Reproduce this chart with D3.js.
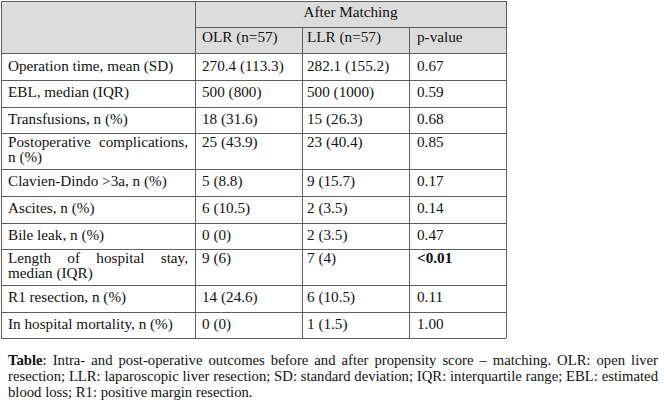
<!DOCTYPE html>
<html>
<head>
<meta charset="utf-8">
<script src="https://cdn.jsdelivr.net/npm/d3@7"></script>
<style>
  html, body { margin: 0; padding: 0; background: #fff; }
  svg { display: block; }
  text { font-family: 'Liberation Serif', 'Times New Roman', serif; fill: #111; }
</style>
</head>
<body>
<svg width="664" height="403"></svg>
<script>
// table contents
const groupHeader = 'After Matching';
const columns = ['OLR (n=57)', 'LLR (n=57)', 'p-value'];
const outcomes = [
  'Operation time, mean (SD)',
  'EBL, median (IQR)',
  'Transfusions, n (%)',
  'Postoperative complications, n (%)',
  'Clavien-Dindo >3a, n (%)',
  'Ascites, n (%)',
  'Bile leak, n (%)',
  'Length of hospital stay, median (IQR)',
  'R1 resection, n (%)',
  'In hospital mortality, n (%)'
];
const olr = ['270.4 (113.3)', '500 (800)', '18 (31.6)', '25 (43.9)', '5 (8.8)',
  '6 (10.5)', '0 (0)', '9 (6)', '14 (24.6)', '0 (0)'];
const llr = ['282.1 (155.2)', '500 (1000)', '15 (26.3)', '23 (40.4)', '9 (15.7)',
  '2 (3.5)', '2 (3.5)', '7 (4)', '6 (10.5)', '1 (1.5)'];
const pValues = ['0.67', '0.59', '0.68', '0.85', '0.17', '0.14', '0.47', '<0.01', '0.11', '1.00'];
const significant = [false, false, false, false, false, false, false, true, false, false];
const captionLead = 'Table';
const captionText = ': Intra- and post-operative outcomes before and after propensity score \u2013 matching. OLR: open liver resection; LLR: laparoscopic liver resection; SD: standard deviation; IQR: interquartile range; EBL: estimated blood loss; R1: positive margin resection.';

const svg = d3.select('svg');
const fontSize = 15.2;
const capSize = 14.7;

// column edges
const colEdges = [1, 195, 302, 409, 506];
const pad = [7, 7, 5, 8];
const x = d3.scaleOrdinal().domain(['label', 'olr', 'llr', 'p']).range(colEdges.slice(0, 4));

// measuring helper
const probe = svg.append('text').attr('x', -1000).attr('y', -1000);
function measure(str, bold, size) {
  probe.text(str).attr('font-weight', bold ? 'bold' : 'normal').attr('font-size', size);
  return probe.node().getComputedTextLength();
}
function spaceWidth(size) {
  return measure('a a', false, size) - measure('aa', false, size);
}

// split words into lines that fit maxW
function wrap(words, maxW, size) {
  const sp = spaceWidth(size);
  const lines = [];
  let cur = [];
  let w = 0;
  words.forEach(word => {
    const ww = word.parts.reduce((s, p) => s + measure(p.t, p.bold, size), 0);
    word.w = ww;
    if (cur.length && w + sp + ww > maxW) {
      lines.push(cur);
      cur = [];
      w = 0;
    }
    w += (cur.length ? sp : 0) + ww;
    cur.push(word);
  });
  if (cur.length) lines.push(cur);
  return { lines, sp };
}

function drawJustified(g, words, x0, maxW, y0, lineH, size) {
  const res = wrap(words, maxW, size);
  res.lines.forEach((line, i) => {
    const last = i === res.lines.length - 1;
    const total = d3.sum(line, d => d.w);
    const gap = !last && line.length > 1 ? (maxW - total) / (line.length - 1) : res.sp;
    let cx = x0;
    line.forEach(word => {
      const t = g.append('text').attr('x', cx).attr('y', y0 + i * lineH).attr('font-size', size);
      word.parts.forEach(p => {
        t.append('tspan').attr('font-weight', p.bold ? 'bold' : 'normal').text(p.t);
      });
      cx += word.w + gap;
    });
  });
  return res.lines.length;
}

const toWords = str => str.split(' ').map(t => ({ parts: [{ t, bold: false }] }));

// row heights depend on how many lines the label needs
const labelWidth = 188 - 8;
const rowLines = outcomes.map(o => wrap(toWords(o), labelWidth, fontSize).lines.length);
const headH = [26, 26];
const rowH = rowLines.map(n => (n > 1 ? 35.5 : 26.8));
const tableTop = 1;
const rowTops = [];
let acc = tableTop + headH[0] + headH[1];
rowH.forEach(h => { rowTops.push(acc); acc += h; });
const tableBottom = acc;

// header background
svg.append('rect')
  .attr('x', colEdges[0]).attr('y', tableTop)
  .attr('width', colEdges[4] - colEdges[0]).attr('height', headH[0] + headH[1])
  .attr('fill', '#dcdcdc');

const grid = svg.append('g').attr('stroke', '#5e5e5e').attr('stroke-width', 1).attr('shape-rendering', 'crispEdges');
// horizontal lines
const hLines = [tableTop, tableTop + headH[0], tableTop + headH[0] + headH[1]].concat(rowTops.slice(1), [tableBottom]);
grid.selectAll('line.h').data(hLines).enter().append('line')
  .attr('class', 'h')
  .attr('x1', (d, i) => (i === 1 ? colEdges[1] : colEdges[0]))
  .attr('x2', colEdges[4])
  .attr('y1', d => Math.round(d) + 0.5).attr('y2', d => Math.round(d) + 0.5);
// vertical lines
grid.selectAll('line.v').data(colEdges).enter().append('line')
  .attr('class', 'v')
  .attr('x1', d => d + 0.5).attr('x2', d => d + 0.5)
  .attr('y1', (d, i) => (i === 2 || i === 3 ? tableTop + headH[0] : tableTop))
  .attr('y2', tableBottom);

// header text
svg.append('text')
  .attr('x', (colEdges[1] + colEdges[4]) / 2).attr('y', tableTop + 15.5)
  .attr('text-anchor', 'middle').attr('font-size', fontSize)
  .text(groupHeader);
svg.selectAll('text.col').data(columns).enter().append('text')
  .attr('class', 'col')
  .attr('x', (d, i) => x(['olr', 'llr', 'p'][i]) + pad[i + 1])
  .attr('y', tableTop + headH[0] + 15)
  .attr('font-size', fontSize)
  .text(d => d);

// body
const body = svg.append('g');
outcomes.forEach((o, i) => {
  const y0 = rowTops[i];
  const multi = rowLines[i] > 1;
  const base = multi ? y0 + 13.5 : y0 + 17.5;
  drawJustified(body, toWords(o), x('label') + pad[0], labelWidth, base, 15, fontSize);
  [['olr', olr[i]], ['llr', llr[i]], ['p', pValues[i]]].forEach(([k, v], j) => {
    body.append('text')
      .attr('x', x(k) + pad[j + 1]).attr('y', base)
      .attr('font-size', fontSize)
      .attr('font-weight', k === 'p' && significant[i] ? 'bold' : 'normal')
      .text(v);
  });
});

// caption
const capWords = toWords(captionText.slice(1).trim());
capWords.unshift({ parts: [{ t: captionLead, bold: true }, { t: ':', bold: false }] });
drawJustified(svg.append('g'), capWords, 8, 650, 365, 16, capSize);

probe.remove();
</script>
</body>
</html>
